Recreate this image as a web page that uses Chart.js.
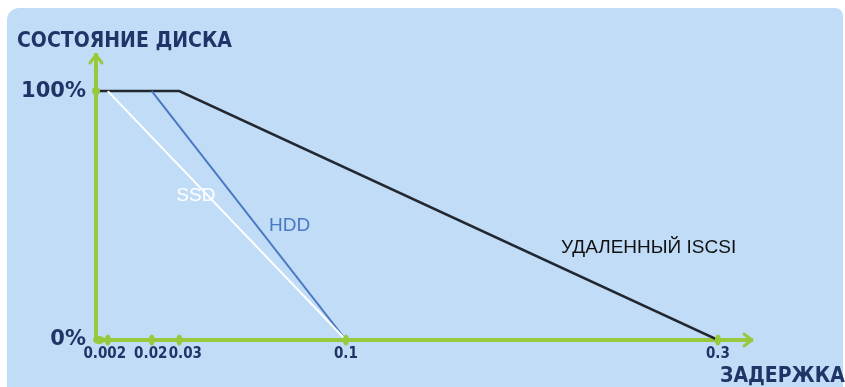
<!DOCTYPE html>
<html>
<head>
<meta charset="utf-8">
<script src="https://cdn.jsdelivr.net/npm/chart.js@4/dist/chart.umd.min.js"></script>
<style>
  body { margin: 0; background: #ffffff; }
  #wrap { position: relative; width: 845px; height: 387px; overflow: hidden; }
  #panel { position: absolute; left: 7px; top: 8px; width: 836px; height: 400px;
           background: #c1dcf7; border-radius: 12px 8px 0 0; }
  canvas { position: absolute; left: 0; top: 0; }
</style>
</head>
<body>
<div id="wrap">
  <div id="panel"></div>
  <canvas id="myChart" width="845" height="387"></canvas>
</div>
<script>
// latency ticks on the x axis (schematic, not to scale)
let latency_ticks = ['0.002', '0.02', '0.03', '0.1', '0.3']
let tick_place = [1.8, 8.5, 12.7, 38.1, 94.8]   // where each tick sits, % of axis length
let tick_nudge = [-3, -1, 6, 0, 0]              // label shift so the crowded ones don't touch
let health_ticks = [0, 100]

let ssd_latency = [0.002, 0.1]
let ssd_health = [100, 0]
let hdd_latency = [0.02, 0.1]
let hdd_health = [100, 0]
let iscsi_latency = [0, 0.03, 0.3]
let iscsi_health = [100, 100, 0]

let green = '#98c93c'
let navy = '#1f3567'

function place(lat) {
    if (lat === 0) return 0
    return tick_place[latency_ticks.indexOf(String(lat))]
}

function points(lat, health) {
    let arr = []
    for (let i = 0; i < lat.length; i++) {
        arr.push({ x: place(lat[i]), y: health[i] })
    }
    return arr
}

// name, health level where label sits, x offset from the line, colour
let series_labels = [
    { text: 'SSD', ds: 0, at: 58, dx: -12, color: '#ffffff' },
    { text: 'HDD', ds: 1, at: 46, dx: 33, color: '#4a78c2' },
    { text: 'УДАЛЕННЫЙ ISCSI', ds: 2, at: 37, dx: 130, color: '#111111' }
]

let decor = {
    id: 'decor',
    afterDraw(chart) {
        let ctx = chart.ctx
        let xs = chart.scales.x
        let ys = chart.scales.y
        let a = chart.chartArea
        ctx.save()
        // arrows
        ctx.strokeStyle = green
        ctx.lineWidth = 3
        ctx.lineCap = 'round'
        ctx.lineJoin = 'round'
        ctx.beginPath()
        ctx.moveTo(a.left - 6, a.top + 8)
        ctx.lineTo(a.left, a.top)
        ctx.lineTo(a.left + 6, a.top + 8)
        ctx.stroke()
        ctx.beginPath()
        ctx.moveTo(a.right - 8, a.bottom - 6)
        ctx.lineTo(a.right, a.bottom)
        ctx.lineTo(a.right - 8, a.bottom + 6)
        ctx.stroke()
        // tick dots + labels
        ctx.font = 'bold 15px "DejaVu Sans Condensed"'
        ctx.textAlign = 'center'
        ctx.textBaseline = 'top'
        for (let i = 0; i < tick_place.length; i++) {
            let px = xs.getPixelForValue(tick_place[i])
            ctx.fillStyle = green
            ctx.beginPath()
            ctx.ellipse(px, a.bottom, 3, 5.5, 0, 0, Math.PI * 2)
            ctx.fill()
            ctx.fillStyle = navy
            ctx.fillText(latency_ticks[i], px + tick_nudge[i], a.bottom + 7)
        }
        ctx.fillStyle = green
        ctx.beginPath()
        ctx.ellipse(a.left + 3, a.bottom, 6, 4, 0, 0, Math.PI * 2)
        ctx.fill()
        ctx.beginPath()
        ctx.ellipse(a.left, ys.getPixelForValue(100), 4, 4, 0, 0, Math.PI * 2)
        ctx.fill()
        // axis titles
        ctx.fillStyle = navy
        ctx.font = 'bold 21px "DejaVu Sans Condensed"'
        ctx.textAlign = 'left'
        ctx.textBaseline = 'alphabetic'
        ctx.fillText('СОСТОЯНИЕ ДИСКА', 17, 47)
        ctx.fillText('ЗАДЕРЖКА', 720, 382)
        // line names
        ctx.font = '19px "Liberation Sans"'
        ctx.textAlign = 'center'
        ctx.textBaseline = 'middle'
        series_labels.forEach(l => {
            let d = chart.data.datasets[l.ds].data
            let p0 = d[d.length - 2], p1 = d[d.length - 1]
            let t = (p0.y - l.at) / (p0.y - p1.y)
            let xv = p0.x + t * (p1.x - p0.x)
            ctx.fillStyle = l.color
            ctx.fillText(l.text, xs.getPixelForValue(xv) + l.dx, ys.getPixelForValue(l.at))
        })
        ctx.restore()
    }
}

let ctx = document.getElementById('myChart').getContext('2d')

let myChart = new Chart(ctx, {
    type: 'scatter',
    data: {
        datasets: [{
            label: 'SSD',
            data: points(ssd_latency, ssd_health),
            showLine: true,
            borderColor: '#ffffff',
            borderWidth: 2,
            pointRadius: 0
        }, {
            label: 'HDD',
            data: points(hdd_latency, hdd_health),
            showLine: true,
            borderColor: '#4a78c2',
            borderWidth: 2,
            pointRadius: 0
        }, {
            label: 'УДАЛЕННЫЙ ISCSI',
            data: points(iscsi_latency, iscsi_health),
            showLine: true,
            borderColor: '#23272f',
            borderWidth: 2.5,
            pointRadius: 0
        }]
    },
    options: {
        responsive: false,
        animation: false,
        layout: { padding: { left: 7, top: 55, right: 93, bottom: 0 } },
        plugins: { legend: { display: false }, tooltip: { enabled: false } },
        scales: {
            x: {
                type: 'linear',
                min: 0,
                max: 100,
                afterFit: s => { s.height = 47 },
                afterBuildTicks: s => { s.ticks = tick_place.map(v => ({ value: v })) },
                grid: { display: false, drawTicks: false },
                border: { color: green, width: 4 },
                ticks: { display: false }
            },
            y: {
                min: 0,
                max: 114.5,
                afterFit: s => { s.width = 89 },
                afterBuildTicks: s => { s.ticks = health_ticks.map(v => ({ value: v })) },
                grid: { display: false, drawTicks: false },
                border: { color: green, width: 4 },
                ticks: {
                    padding: 10,
                    color: navy,
                    font: { family: 'DejaVu Sans', size: 21, weight: 'bold' },
                    callback: v => v + '%'
                }
            }
        }
    },
    plugins: [decor]
})
</script>
</body>
</html>
